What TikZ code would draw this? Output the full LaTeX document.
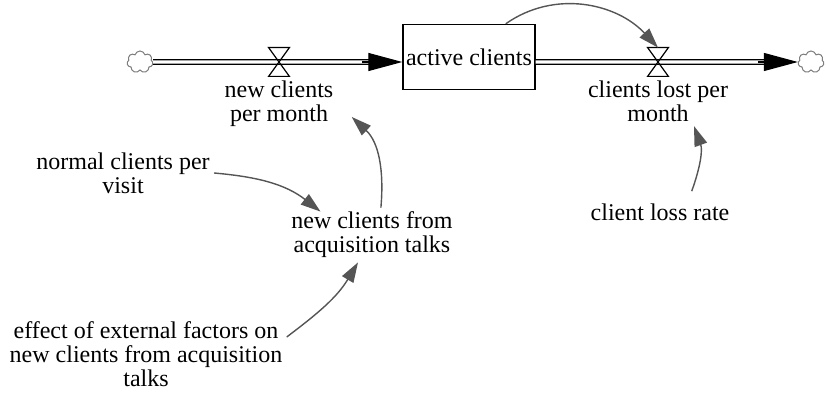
\documentclass[tikz,border=0pt]{standalone}
\usepackage{fontspec}
\setmainfont{Liberation Serif}
\usetikzlibrary{positioning,shapes.symbols,arrows.meta}
\definecolor{linkgray}{RGB}{85,85,85}
\definecolor{cloudgray}{RGB}{125,125,125}
\tikzset{
  stock/.style={draw, line width=0.7pt, minimum width=66pt, minimum height=32.5pt, inner sep=0pt},
  valve/.style={inner sep=0pt, minimum width=10pt, minimum height=14pt},
  valveline/.style={draw, line width=0.6pt, line join=miter},
  cloudy/.style={cloud, cloud puffs=7, aspect=1.2, draw=cloudgray, line width=0.5pt, minimum width=13pt, minimum height=11pt, inner sep=0pt},
  pipe/.style={double, double distance=1.6pt, line width=0.6pt},
  flowtip/.style={-{Triangle[length=17pt,width=9pt]}, line width=0.6pt},
  var/.style={align=center, inner sep=2pt},
  link/.style={draw=linkgray, line width=0.7pt, -{Triangle[length=10pt,width=6.5pt]}},
}
\begin{document}
\begin{tikzpicture}[x=0.5pt, y=0.5pt, font=\fontsize{12}{12}\selectfont]
\useasboundingbox (0,0) rectangle (826,-395);
% stock, valves and clouds
\node[cloudy] (c1) at (140,-62) {};
\node[valve] (v1) at (279,-62) {};
\node[stock] (st) at (469,-57) {active clients};
\node[valve] (v2) at (658,-62) {};
\node[cloudy] (c2) at (811,-62) {};
\node[var, below=0pt of v1] (ncpm) {new clients\\per month};
\node[var, below=0pt of v2] (clpm) {clients lost per\\month};
% auxiliaries
\node[var] (ncpv) at (123,-173) {normal clients per\\visit};
\node[var] (ncfat) at (372,-235) {new clients from\\acquisition talks};
\node[var] (clr) at (660,-212) {client loss rate};
\node[var] (eef) at (146,-354) {effect of external factors on\\new clients from acquisition\\talks};
\coordinate (in1) at (st.west |- v1);
\coordinate (out1) at (st.east |- v2);
% flows
\draw[pipe, shorten >=10pt] (c1) -- (in1);
\draw[flowtip] ([xshift=-20pt]in1) -- (in1);
\draw[pipe, shorten >=10pt] (out1) -- (c2);
\draw[flowtip] ([xshift=-20pt]c2.west) -- (c2.west);
\foreach \v in {v1,v2}
  \draw[valveline] (\v.north west) -- (\v.north east) -- (\v.south west) -- (\v.south east) -- cycle;
% links
\draw[link] ([xshift=-15pt]st.north east) to[out=35, in=133] (v2.north);
\draw[link] (ncpv.east) to[out=-5, in=142] ([shift={(-2pt,-2pt)}]ncfat.150);
\draw[link] (ncfat.72) to[out=85, in=-43] ([shift={(7pt,7pt)}]ncpm.south east);
\draw[link] ([shift={(-21pt,4pt)}]clr.north east) to[out=70, in=-70] ([xshift=18pt]clpm.south);
\draw[link] ([yshift=8.5pt]eef.east) to[out=37, in=-121] ([xshift=-7pt]ncfat.south);
\end{tikzpicture}
\end{document}
